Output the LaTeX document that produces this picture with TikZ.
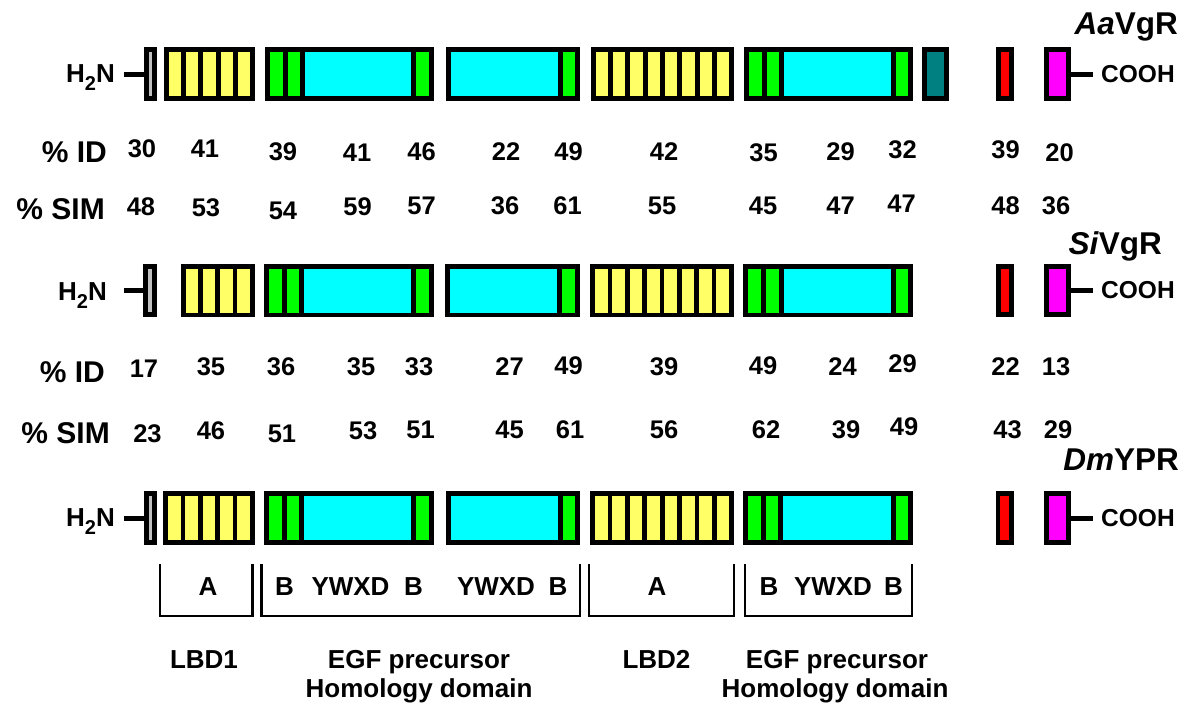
\documentclass[tikz,border=0pt]{standalone}
\usepackage{fontspec}
\setmainfont{Liberation Sans}
\usepackage{tikz}
\usetikzlibrary{calc, positioning}
\definecolor{ldlyellow}{RGB}{255,255,102}
\definecolor{egfgreen}{RGB}{0,255,0}
\definecolor{egfcyan}{RGB}{0,255,255}
\definecolor{tmteal}{RGB}{0,128,128}
\definecolor{cytored}{RGB}{255,0,0}
\definecolor{cytomag}{RGB}{255,0,255}
\definecolor{sigray}{RGB}{192,192,192}
\tikzstyle{dom} = [rectangle, inner sep=0pt, minimum height=48.4pt]
\tikzstyle{smalldom} = [rectangle, draw=black, line width=4.8pt, inner sep=0pt, minimum height=48.4pt]
\tikzstyle{outline} = [line width=4.8pt]
\tikzstyle{divider} = [line width=4.8pt]
\tikzstyle{tail} = [line width=5pt]
\tikzstyle{bracket} = [line width=2.5pt]
\tikzstyle{num} = [inner sep=0pt, font=\fontsize{25.5}{25.5}\selectfont\bfseries]
\tikzstyle{rowlbl} = [inner sep=0pt, font=\fontsize{30}{30}\selectfont\bfseries]
\tikzstyle{species} = [inner sep=0pt, font=\fontsize{31.5}{31.5}\selectfont\bfseries]
\tikzstyle{term} = [inner ysep=0pt, inner xsep=9pt, font=\fontsize{26}{26}\selectfont\bfseries]
\tikzstyle{cterm} = [inner ysep=0pt, inner xsep=8pt, font=\fontsize{24.5}{24.5}\selectfont\bfseries]
\tikzstyle{domlbl} = [inner sep=0pt, font=\fontsize{26}{26}\selectfont\bfseries]

% LDL receptor class A repeats: name, left, right, y, number of repeats
\newcommand{\ldlrep}[5]{%
  \node[dom, fill=ldlyellow, minimum width={(#3-#2-4.8)*1pt}] (#1) at ({(#2+#3)/2},#4) {};
  \pgfmathtruncatemacro{\lastdiv}{#5-1}
  \foreach \k in {1,...,\lastdiv}
    \draw[divider] ($(#1.south west)!{\k/#5}!(#1.south east)$) -- ($(#1.north west)!{\k/#5}!(#1.north east)$);
  \draw[outline] (#1.south west) rectangle (#1.north east);
}
% EGF precursor block: name, left, right, y, 1 = two leading B repeats
\newcommand{\egfrep}[5]{%
  \node[dom, fill=egfcyan, minimum width={(#3-#2-4.8)*1pt}] (#1) at ({(#2+#3)/2},#4) {};
  \ifnum#5=1
    \fill[egfgreen] (#1.south west) rectangle ([xshift=35.6pt]#1.north west);
    \draw[divider] ([xshift=17.9pt]#1.south west) -- ([xshift=17.9pt]#1.north west);
    \draw[divider] ([xshift=35.6pt]#1.south west) -- ([xshift=35.6pt]#1.north west);
  \fi
  \fill[egfgreen] ([xshift=-17.6pt]#1.south east) rectangle (#1.north east);
  \draw[divider] ([xshift=-17.6pt]#1.south east) -- ([xshift=-17.6pt]#1.north east);
  \draw[outline] (#1.south west) rectangle (#1.north east);
}
\newcommand{\htwon}{H\raisebox{-8pt}{\fontsize{20}{20}\selectfont 2}N}

\begin{document}
\begin{tikzpicture}[x=1pt, y=-1pt]
\useasboundingbox (0,0) rectangle (1188,704);

% AaVgR
\node[smalldom, fill=sigray, minimum width=8.2pt] (nendA) at (150.5,74) {};
\ldlrep{ldlA1}{164}{255}{74}{5}
\egfrep{egfA1}{265}{433.5}{74}{1}
\egfrep{egfA2}{446.5}{580}{74}{0}
\ldlrep{ldlA2}{591}{734}{74}{8}
\egfrep{egfA3}{744}{913}{74}{1}
\node[smalldom, fill=tmteal, minimum width=22.2pt] (tmA) at (935.5,74) {};
\node[smalldom, fill=cytored, minimum width=13.2pt] (redA) at (1005,74) {};
\node[smalldom, fill=cytomag, minimum width=22.2pt] (magA) at (1057.5,74) {};
\node[term, anchor=base east] (h2nA) at (124,82.7) {\htwon};
\node[cterm, anchor=west] (coohA) at (1093,74) {COOH};
\draw[tail] (nendA.west) -- (nendA.west -| h2nA.east);
\draw[tail] (magA.east) -- (coohA.west);
\node[species, anchor=base east] (nameA) at (1178,34) {\textit{Aa}VgR};

% identity / similarity AaVgR - SiVgR
\node[rowlbl, anchor=east] (idA) at (107,152.5) {\% ID};
\node[rowlbl, anchor=east] (simA) at (105,209.2) {\% SIM};
\foreach \v/\x/\y [count=\i] in {30/142/148.3, 41/205/149, 39/283/151.7, 41/357/152.3, 46/421.5/151.7, 22/506/151.7, 49/568.5/151.7, 42/664/151.7, 35/763.5/152.7, 29/840.5/151.7, 32/902.5/149.3, 39/1005.5/149.3, 20/1059.5/152.7}
  \node[num] (idA-\i) at (\x,\y) {\v};
\foreach \v/\x/\y [count=\i] in {48/141/207, 53/206/207.7, 54/283/210.7, 59/357.5/207, 57/421.5/206, 36/505/206, 61/567.5/206, 55/662/206, 45/763/206, 47/840.5/206, 47/901.5/204, 48/1005.5/206, 36/1056/206}
  \node[num] (simA-\i) at (\x,\y) {\v};

% SiVgR
\node[smalldom, fill=sigray, minimum width=9.2pt] (nendB) at (150,290.5) {};
\ldlrep{ldlB1}{181}{254.5}{290.5}{4}
\egfrep{egfB1}{264}{433.5}{290.5}{1}
\egfrep{egfB2}{445.5}{579.5}{290.5}{0}
\ldlrep{ldlB2}{590.5}{733.5}{290.5}{8}
\egfrep{egfB3}{743.5}{913}{290.5}{1}
\node[smalldom, fill=cytored, minimum width=13.2pt] (redB) at (1005,290.5) {};
\node[smalldom, fill=cytomag, minimum width=22.2pt] (magB) at (1057.5,290.5) {};
\node[term, inner xsep=17pt, anchor=base east] (h2nB) at (124,300) {\htwon};
\node[cterm, anchor=west] (coohB) at (1093,290.5) {COOH};
\draw[tail] (nendB.west) -- (nendB.west -| h2nB.east);
\draw[tail] (magB.east) -- (coohB.west);
\node[species, anchor=base east] (nameB) at (1162,254) {\textit{Si}VgR};

% identity / similarity SiVgR - DmYPR
\node[rowlbl, anchor=east] (idB) at (105,371.7) {\% ID};
\node[rowlbl, anchor=east] (simB) at (110,433.4) {\% SIM};
\foreach \v/\x/\y [count=\i] in {17/144/368.7, 35/211/367, 36/281/366.7, 35/361/366.7, 33/419/366.7, 27/509.5/366.7, 49/568.5/366, 39/664/366.7, 49/763/366, 24/842.5/366.7, 29/902.5/364, 22/1005.5/366.7, 13/1056/366.7}
  \node[num] (idB-\i) at (\x,\y) {\v};
\foreach \v/\x/\y [count=\i] in {23/147.5/434, 46/211/430.7, 51/282/434, 53/363/430.7, 51/420.5/430, 45/509.5/430, 61/570/430, 56/664/430, 62/766/430, 39/846/430, 49/904/427, 43/1007.5/430, 29/1058/430}
  \node[num] (simB-\i) at (\x,\y) {\v};

% DmYPR
\node[smalldom, fill=sigray, minimum width=8.2pt] (nendC) at (150.5,518) {};
\ldlrep{ldlC1}{163.5}{254.5}{518}{5}
\egfrep{egfC1}{264}{433.5}{518}{1}
\egfrep{egfC2}{446}{580}{518}{0}
\ldlrep{ldlC2}{590.5}{734}{518}{8}
\egfrep{egfC3}{743}{913}{518}{1}
\node[smalldom, fill=cytored, minimum width=13.2pt] (redC) at (1004.5,518) {};
\node[smalldom, fill=cytomag, minimum width=22.2pt] (magC) at (1057.5,518) {};
\node[term, anchor=base east] (h2nC) at (124,526.7) {\htwon};
\node[cterm, anchor=west] (coohC) at (1093,518) {COOH};
\draw[tail] (nendC.west) -- (nendC.west -| h2nC.east);
\draw[tail] (magC.east) -- (coohC.west);
\node[species, anchor=base east] (nameC) at (1179,470) {\textit{Dm}YPR};

% domain brackets
\draw[bracket] (160,564) |- (252.5,616) -- (252.5,564);
\draw[bracket] (261.5,564) |- (580,616) -- (580,564);
\draw[bracket] (589,564) |- (734,616) -- (734,564);
\draw[bracket] (745,564) |- (912,616) -- (912,564);
\foreach \t/\x [count=\i] in {A/208, B/284.5, YWXD/350.5, B/413.5, YWXD/496, B/558, A/657, B/769, YWXD/833, B/893.5}
  \node[domlbl] (rep-\i) at (\x,587) {\t};

\node[domlbl, anchor=base] (lbdone) at (204,668) {LBD1};
\node[domlbl, anchor=base] (egfone) at (419,668) {EGF precursor};
\node[domlbl, anchor=base] (homone) at (419,697) {Homology domain};
\node[domlbl, anchor=base] (lbdtwo) at (656.5,668) {LBD2};
\node[domlbl, anchor=base] (egftwo) at (837,668) {EGF precursor};
\node[domlbl, anchor=base] (homtwo) at (835,697) {Homology domain};
\end{tikzpicture}
\end{document}
